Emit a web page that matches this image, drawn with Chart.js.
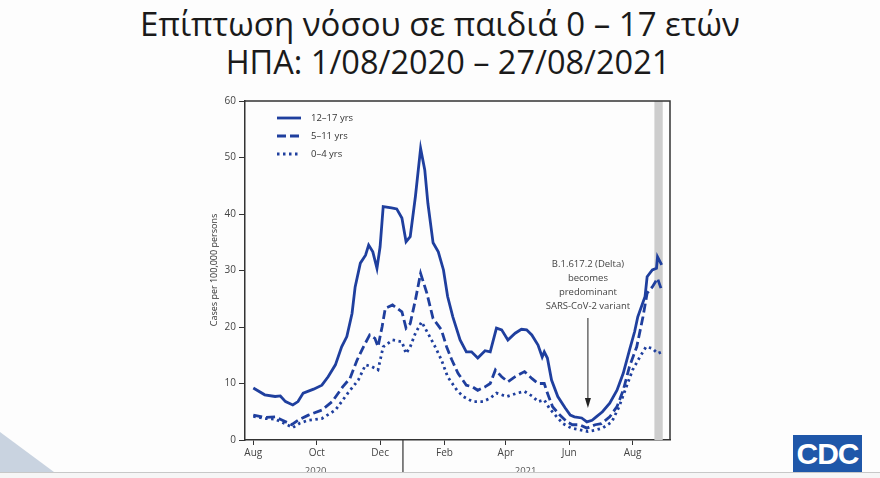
<!DOCTYPE html>
<html>
<head>
<meta charset="utf-8">
<style>
  body { margin: 0; width: 880px; height: 478px; overflow: hidden; background: #fdfdfd; position: relative; font-family: "Open Sans", sans-serif; }
  #title { position: absolute; left: 0; top: 5px; width: 880px; text-align: center; font-size: 33px; line-height: 38px; color: #1a1a1a; }
  #title span { position: relative; left: 8px; font-size: 32.5px; }
  #wrap { position: absolute; left: 0; top: 0; width: 880px; height: 478px; }
  #tri { position: absolute; left: 0; top: 432px; width: 54px; height: 40px; background: #c9d3e0; clip-path: polygon(0 0, 100% 100%, 0 100%); }
  #strip { position: absolute; left: 0; top: 472px; width: 880px; height: 6px; background: #f6f6f6; border-top: 1px solid #c8c8c8; }
  #cdc { position: absolute; left: 793px; top: 435px; width: 69px; height: 37px; background: #1f57a9; color: #fff; font: bold 30px "Liberation Sans", sans-serif; letter-spacing: -1px; text-align: center; line-height: 37px; }
</style>
</head>
<body>
<div id="title">Επίπτωση νόσου σε παιδιά 0 – 17 ετών<br><span>ΗΠΑ: 1/08/2020 – 27/08/2021</span></div>
<div id="wrap"><canvas id="myChart"></canvas></div>
<div id="tri"></div>
<div id="strip"></div>
<div id="cdc">CDC</div>

<script type="text/javascript" src="https://cdn.jsdelivr.net/npm/chart.js@4.4.2/dist/chart.umd.min.js"></script>
<script>
// days counted from 1 Aug 2020
const tickDays = [0, 61, 122, 184, 243, 304, 365];
const tickLabels = ['Aug', 'Oct', 'Dec', 'Feb', 'Apr', 'Jun', 'Aug'];
const yearDays = [60, 262];
const yearLabels = ['2020', '2021'];
const yearDividerDay = 144;
const bandDays = [386, 394];
const deltaDay = 322;
const deltaText = ['B.1.617.2 (Delta)', 'becomes', 'predominant', 'SARS-CoV-2 variant'];

const days12to17 = [0,11,21,26,31,38,43,48,58,66,72,79,85,90,95,98,103,108,111,115,119,122,125,133,138,143,147,151,156,161,165,168,173,178,183,187,192,199,205,210,216,223,228,234,239,245,252,258,263,268,274,278,280,283,287,293,300,305,309,316,321,326,330,336,343,350,356,362,367,370,377,379,384,388,389,393];
const cases12to17 = [9.2,8.0,7.7,7.8,6.8,6.2,6.8,8.3,9.0,9.7,11.2,13.3,16.5,18.3,22.4,27.1,31.3,32.7,34.5,33.3,30.4,34.2,41.3,41.1,40.9,39.3,35.1,36.0,43.1,51.6,47.8,41.9,34.9,33.3,30.1,25.4,21.8,17.7,15.6,15.6,14.5,15.8,15.6,19.8,19.5,17.7,18.9,19.6,19.5,18.6,16.8,14.7,15.6,14.5,10.6,7.7,5.7,4.4,4.1,3.9,3.2,3.5,4.1,5.0,6.5,8.8,11.8,15.9,19.2,21.8,25.4,28.9,30.1,30.4,32.4,31.0];

const days5to11 = [0,11,21,28,37,43,53,66,76,86,93,100,106,112,117,120,124,127,134,143,147,151,156,161,167,173,181,186,191,197,205,211,216,223,228,233,239,245,252,261,268,274,280,283,288,295,302,307,314,321,329,335,343,350,356,362,369,375,379,384,389,393];
const cases5to11 = [4.4,4.0,4.1,3.5,2.7,3.5,4.4,5.3,6.8,9.4,10.9,14.2,16.5,18.6,18.0,16.5,20.1,23.3,23.9,22.7,19.8,20.6,24.8,29.5,26.0,21.5,19.5,16.5,14.2,11.8,9.7,9.4,8.8,9.4,10.0,12.4,11.2,10.3,11.2,12.1,10.9,10.0,10.0,8.3,5.9,4.4,3.2,2.7,2.7,2.1,2.7,2.9,4.1,5.9,8.8,13.0,16.5,21.8,26.0,27.1,28.6,26.5];

const days0to4 = [0,11,21,28,38,45,53,66,79,91,101,108,114,120,125,134,143,147,151,156,162,168,175,181,187,196,202,211,221,228,234,244,254,261,269,274,280,285,292,298,306,314,322,330,336,345,352,359,365,372,378,384,389,393];
const cases0to4 = [4.2,3.8,3.7,3.1,2.2,3.0,3.5,3.8,5.3,8.3,10.6,13.3,13.0,12.4,16.5,17.7,17.4,15.3,16.5,18.9,20.9,18.9,16.5,14.2,11.2,8.8,7.7,6.8,6.8,7.4,8.3,7.7,8.3,8.6,7.7,6.8,7.1,5.6,4.1,2.9,2.1,1.8,1.5,1.8,2.1,3.2,5.9,9.4,12.4,14.7,16.5,16.2,15.3,15.6];

const seriesNames = ['12–17 yrs', '5–11 yrs', '0–4 yrs'];

const blue = '#1f3f9e';
const pts = (d, v) => d.map((x, i) => ({ x: x, y: v[i] }));

const data = {
    datasets: [
        { label: seriesNames[0], data: pts(days12to17, cases12to17), borderColor: blue, borderWidth: 2.8, borderDash: [] },
        { label: seriesNames[1], data: pts(days5to11, cases5to11), borderColor: blue, borderWidth: 2.8, borderDash: [9, 4] },
        { label: seriesNames[2], data: pts(days0to4, cases0to4), borderColor: blue, borderWidth: 2.8, borderDash: [2.5, 3.5] }
    ]
};

// top/right frame, band, year labels, annotation and the inside legend
const extras = {
    id: 'extras',
    beforeDatasetsDraw(chart) {
        const { ctx, chartArea: a, scales: { x } } = chart;
        ctx.save();
        ctx.fillStyle = '#cdcdcd';
        const x1 = x.getPixelForValue(bandDays[0]);
        const x2 = x.getPixelForValue(bandDays[1]);
        ctx.fillRect(x1, a.top, x2 - x1, a.bottom - a.top);
        ctx.restore();
    },
    afterDraw(chart) {
        const { ctx, chartArea: a, scales: { x } } = chart;
        ctx.save();
        ctx.strokeStyle = '#333';
        ctx.lineWidth = 1.5;
        ctx.beginPath();
        ctx.moveTo(a.left, a.top);
        ctx.lineTo(a.right, a.top);
        ctx.lineTo(a.right, a.bottom);
        ctx.stroke();

        // year divider
        const xd = x.getPixelForValue(yearDividerDay);
        ctx.lineWidth = 1.2;
        ctx.beginPath();
        ctx.moveTo(xd, a.bottom);
        ctx.lineTo(xd, a.bottom + 40);
        ctx.stroke();

        ctx.fillStyle = '#555';
        ctx.font = '9.5px "Open Sans"';
        ctx.textAlign = 'center';
        ctx.textBaseline = 'middle';
        yearLabels.forEach((t, i) => ctx.fillText(t, x.getPixelForValue(yearDays[i]), a.bottom + 31));

        // y title
        ctx.save();
        ctx.translate(214, 270);
        ctx.rotate(-Math.PI / 2);
        ctx.fillStyle = '#333';
        ctx.font = '9px "Open Sans"';
        ctx.fillText('Cases per 100,000 persons', 0, 0);
        ctx.restore();

        // annotation
        const xa = x.getPixelForValue(deltaDay);
        ctx.fillStyle = '#444';
        ctx.font = '9.5px "Open Sans"';
        deltaText.forEach((t, i) => ctx.fillText(t, xa, 264 + i * 14));
        ctx.strokeStyle = '#222';
        ctx.lineWidth = 1;
        ctx.beginPath();
        ctx.moveTo(xa, 318);
        ctx.lineTo(xa, 404);
        ctx.stroke();
        ctx.fillStyle = '#222';
        ctx.beginPath();
        ctx.moveTo(xa, 408);
        ctx.lineTo(xa - 3, 398);
        ctx.lineTo(xa + 3, 398);
        ctx.closePath();
        ctx.fill();

        // legend
        ctx.textAlign = 'left';
        chart.data.datasets.forEach((ds, i) => {
            const y = 118 + i * 18;
            ctx.strokeStyle = ds.borderColor;
            ctx.lineWidth = 2.8;
            ctx.setLineDash(ds.borderDash);
            ctx.beginPath();
            ctx.moveTo(a.left + 32, y);
            ctx.lineTo(a.left + 56, y);
            ctx.stroke();
            ctx.setLineDash([]);
            ctx.fillStyle = '#333';
            ctx.font = '9.5px "Open Sans"';
            ctx.fillText(ds.label, a.left + 66, y);
        });
        ctx.restore();
    }
};

const config = {
    type: 'line',
    data,
    options: {
        responsive: true,
        maintainAspectRatio: false,
        animation: false,
        layout: { padding: { left: 190, top: 101, right: 210, bottom: 0 } },
        elements: { point: { radius: 0 }, line: { tension: 0, borderCapStyle: 'butt' } },
        plugins: { legend: { display: false }, tooltip: { enabled: false } },
        scales: {
            x: {
                type: 'linear',
                min: -8,
                max: 401,
                afterFit: (s) => { s.height = 38; },
                afterBuildTicks: (s) => { s.ticks = tickDays.map(v => ({ value: v })); },
                grid: { drawOnChartArea: false, drawTicks: true, tickLength: 5, color: '#333' },
                border: { color: '#333', width: 1.5 },
                ticks: {
                    padding: 2,
                    color: '#444',
                    font: { family: 'Open Sans', size: 10 },
                    maxRotation: 0,
                    callback: (v) => tickLabels[tickDays.indexOf(v)]
                }
            },
            y: {
                min: 0,
                max: 60,
                afterFit: (s) => { s.width = 55; },
                grid: { drawOnChartArea: false, drawTicks: true, tickLength: 6, color: '#333' },
                border: { color: '#333', width: 1.5 },
                ticks: { stepSize: 10, padding: 3, color: '#444', font: { family: 'Open Sans', size: 10 } }
            }
        }
    },
    plugins: [extras]
};

let myChart = new Chart(document.getElementById('myChart'), config);
</script>
</body>
</html>
